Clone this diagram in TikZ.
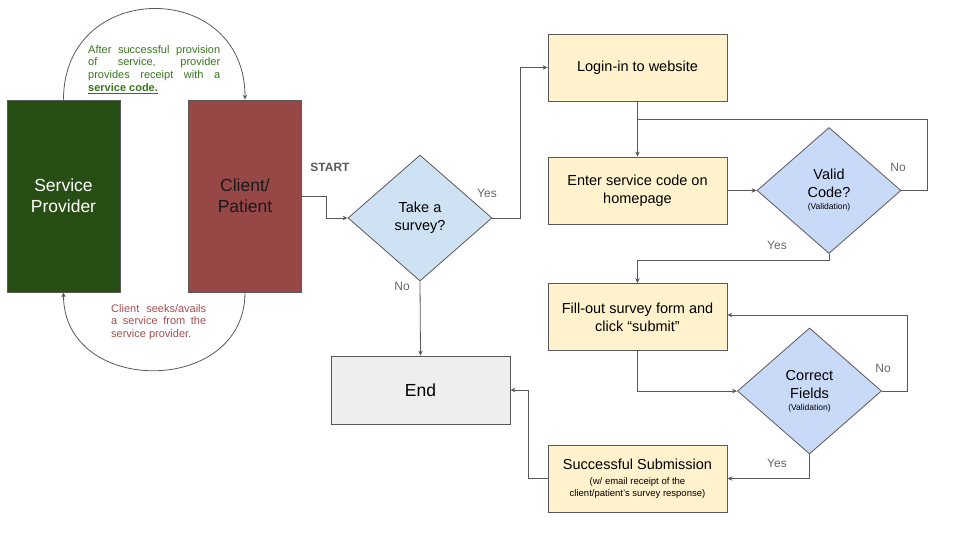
\documentclass[tikz,border=0pt]{standalone}
\usepackage{fontspec}
\setmainfont{Liberation Sans}
\usetikzlibrary{shapes.geometric,arrows.meta}
\definecolor{edge}{HTML}{595959}
\definecolor{provider}{HTML}{274E13}
\definecolor{client}{HTML}{984747}
\definecolor{step}{HTML}{FFF2CC}
\definecolor{askA}{HTML}{CFE2F3}
\definecolor{askB}{HTML}{C9DAF8}
\definecolor{endfill}{HTML}{EEEEEE}
\definecolor{note}{HTML}{38761D}
\definecolor{notered}{HTML}{A64D4D}
\definecolor{answer}{HTML}{666666}
\newcommand{\tinytext}{\fontsize{8.5}{11}\selectfont}
\newcommand{\finetext}{\fontsize{9.5}{12}\selectfont}
\newcommand{\nohyph}{\hyphenpenalty=10000\relax}
\tikzset{
  party/.style={draw=edge, line width=0.8pt, minimum width=113pt, minimum height=192pt,
    inner sep=0pt, align=center, font=\fontsize{17.5}{21}\selectfont},
  stepbox/.style={draw=edge, line width=0.8pt, fill=step, minimum width=179pt, minimum height=67pt,
    inner sep=0pt, align=center, font=\fontsize{14.5}{18}\selectfont},
  endbox/.style={draw=edge, line width=0.8pt, fill=endfill, minimum width=179pt, minimum height=68pt,
    inner sep=0pt, font=\fontsize{17.5}{21}\selectfont},
  ask/.style={diamond, draw=edge, line width=0.8pt, minimum width=144pt, minimum height=126pt,
    inner sep=0pt, align=center, font=\fontsize{14.5}{18}\selectfont},
  link/.style={draw=edge, line width=0.8pt, -{Stealth[length=5pt,width=4.5pt]}},
  plain/.style={draw=edge, line width=0.8pt},
  answ/.style={text=answer, font=\fontsize{12}{14}\selectfont, inner sep=0pt},
  remark/.style={align=justify, inner sep=0pt, font=\fontsize{11}{12.7}\selectfont}
}
\begin{document}
\begin{tikzpicture}[x=1pt,y=-1pt]
  \useasboundingbox (0,0) rectangle (960,540);

  % the two parties
  \node[party, fill=provider, text=white] (sp) at (63.5,196) {Service\\Provider};
  \node[party, fill=client, text=black!90] (cp) at (245,196) {Client/\\Patient};

  \draw[link] (sp.north) .. controls +(0,-121) and +(0,-121) .. (cp.north);
  \draw[link] (cp.south) .. controls +(0,104) and +(0,104) .. (sp.south);

  \node[remark, text=note, text width=132pt, anchor=north west] (give) at (88,45)
    {\nohyph After successful provision\linebreak of service, provider\linebreak provides receipt with a\linebreak
     \underline{\textbf{service code.}}};
  \node[remark, text=notered, text width=95pt, anchor=north west] (seek) at (111,304)
    {\nohyph Client seeks/avails\linebreak a service from the\linebreak service provider.};

  % flow
  \node[text=edge, font=\fontsize{12}{14}\selectfont\bfseries] (start) at (330,167) {START};
  \node[ask, fill=askA] (survey) at (420,218) {Take a\\survey?};
  \node[endbox] (stop) at (420.5,390) {End};

  \node[stepbox] (login) at (637.5,67.5) {Login-in to website};
  \node[stepbox] (enter) at (637.5,190.5) {Enter service code on\\homepage};
  \node[ask, fill=askB] (valid) at (829,190.5) {Valid\\Code?\\[-6pt]{\tinytext (Validation)}};
  \node[stepbox] (form) at (637.5,317) {Fill-out survey form and\\click “submit”};
  \node[ask, fill=askB] (fields) at (809.5,391) {Correct\\Fields\\[-6pt]{\tinytext (Validation)}};
  \node[stepbox] (done) at (637.5,478.5)
    {Successful Submission\\[-3pt]{\finetext (w/ email receipt of the}\\[-6pt]{\finetext client/patient’s survey response)}};
  \coordinate (join) at (637.5,119);

  \draw[link] (cp.east) -- ++(24,0) |- (survey.west);
  \draw[link] (survey.east) -- ++(28,0) |- (login.west);
  \draw[link] (survey.south) -- (stop.north);
  \draw[link] (login.south) -- (enter.north);
  \draw[link] (enter.east) -- (valid.west);
  \draw[plain] (valid.east) -- ++(26,0) |- (join);
  \draw[link] (valid.south) -- ++(0,6) -| (form.north);
  \draw[link] (form.south) |- (fields.west);
  \draw[link] (fields.east) -- ++(25,0) |- ([yshift=2pt]form.east);
  \draw[link] (fields.south) |- (done.east);
  \draw[link] (done.west) -- ++(-19,0) |- (stop.east);

  \node[answ] (yes1) at (487,193) {Yes};
  \node[answ] (no1) at (402,286) {No};
  \node[answ] (no2) at (898,167) {No};
  \node[answ] (yes2) at (777,245) {Yes};
  \node[answ] (no3) at (883,368) {No};
  \node[answ] (yes3) at (777,463) {Yes};
\end{tikzpicture}
\end{document}
